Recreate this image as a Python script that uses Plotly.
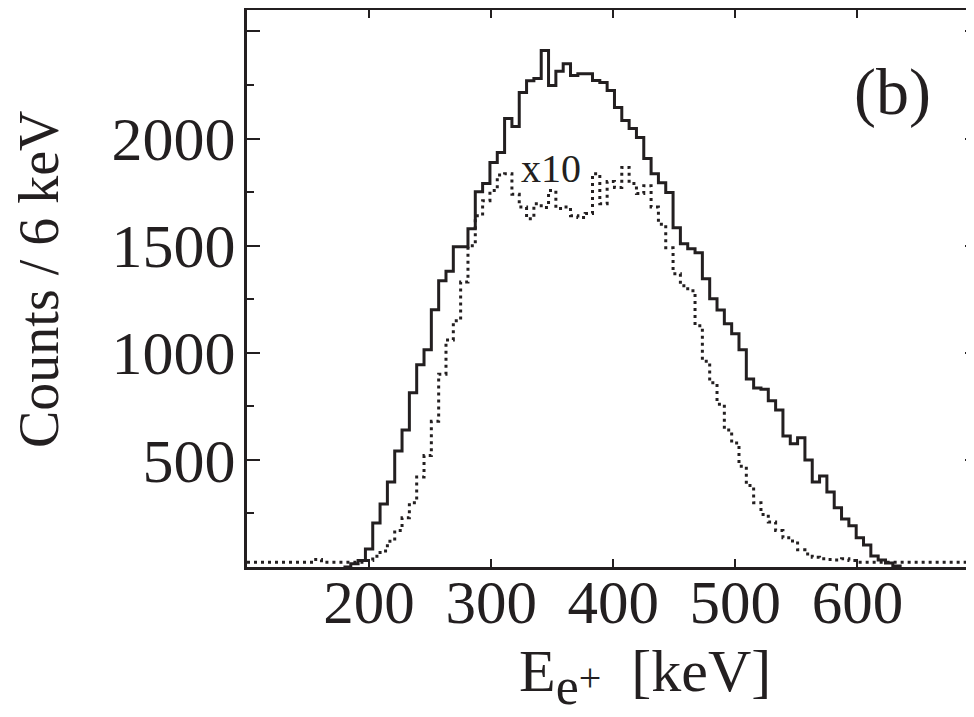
import numpy as np
import plotly.graph_objects as go

# ---------------- data ----------------
bin_width = 6  # keV per bin

# solid histogram: first bin starts at 185 keV
solid_first_edge = 185
solid_counts = [15, 30, 84, 205, 294, 397, 542, 640, 813, 944,
                1014, 1201, 1336, 1380, 1495, 1495, 1579, 1752, 1790, 1888,
                1935, 2093, 2056, 2215, 2270, 2280, 2411, 2248, 2314, 2349,
                2294, 2303, 2303, 2271, 2262, 2224, 2145, 2084, 2047, 2005,
                1907, 1836, 1794, 1748, 1584, 1509, 1486, 1467, 1346, 1252,
                1200, 1135, 1089, 1014, 878, 836, 830, 776, 733, 612,
                575, 603, 500, 397, 425, 350, 276, 224, 192, 136,
                103, 51, 33, 19, 5]

# dotted histogram (x10): first bin starts at 101 keV
dotted_first_edge = 101
dotted_counts = [22, 22, 22, 22, 22, 22, 22, 22, 22, 35,
                 22, 22, 22, 22, 22, 22,
                 30, 50, 75, 120, 170, 230, 300, 420, 520, 680,
                 900, 1060, 1150, 1330, 1500, 1640, 1710, 1757, 1830, 1836,
                 1740, 1680, 1626, 1696, 1678, 1757, 1673, 1680, 1640, 1631,
                 1650, 1836, 1696, 1800, 1771, 1865, 1790, 1743, 1780, 1680,
                 1600, 1490, 1369, 1313, 1290, 1126, 960, 860, 760, 640,
                 579, 470, 380, 300, 245, 210, 170, 136, 121, 80,
                 61, 45, 38, 35, 33, 38, 30,
                 22, 22, 22, 22, 22, 22, 22, 22, 22, 22,
                 22, 22, 22, 22, 22, 22]

x_tick_vals = [200, 300, 400, 500, 600]
x_tick_text = ["200", "300", "400", "500", "600"]
y_tick_vals = [0, 500, 1000, 1500, 2000, 2500]
y_tick_text = ["", "500", "1000", "1500", "2000", ""]

x_range = [100, 695.5]
y_range = [0, 2600]

# ---------------- build step outlines ----------------
n_s = len(solid_counts)
sx = [solid_first_edge - bin_width] + [solid_first_edge + i * bin_width for i in range(n_s)] \
     + [solid_first_edge + n_s * bin_width]
sy = [0] + solid_counts + [0]

n_d = len(dotted_counts)
dx = [dotted_first_edge - 1] + [dotted_first_edge + i * bin_width for i in range(1, n_d)] \
     + [dotted_first_edge + n_d * bin_width]
dy = dotted_counts + [dotted_counts[-1]]

INK = "#231f20"
FONT = "Liberation Serif"

# page body has an 8px default margin; figure is sized to fit the window
W, H = 966, 709
L, T, B = 239, 2, 150
PW, PH = W - L, H - T - B

fig = go.Figure()
fig.add_trace(go.Scatter(x=dx, y=dy, mode="lines", line_shape="hv",
                         line=dict(color=INK, width=3, dash="3px,4px"),
                         showlegend=False, hoverinfo="skip"))
fig.add_trace(go.Scatter(x=sx, y=sy, mode="lines", line_shape="hv",
                         line=dict(color=INK, width=3),
                         showlegend=False, hoverinfo="skip"))
# invisible trace to anchor right-hand tick axis
fig.add_trace(go.Scatter(x=[x_range[0]], y=[y_range[0]], yaxis="y2", mode="markers",
                         marker=dict(opacity=0), showlegend=False, hoverinfo="skip"))

fig.update_layout(
    width=W, height=H,
    margin=dict(l=L, r=0, t=T, b=B, autoexpand=False),
    paper_bgcolor="white", plot_bgcolor="white",
    font=dict(family=FONT, color=INK),
    xaxis=dict(range=x_range, showline=True, linewidth=3, linecolor=INK,
               mirror="ticks", ticks="inside", ticklen=8, tickwidth=2, tickcolor=INK,
               tickvals=x_tick_vals, ticktext=x_tick_text,
               tickfont=dict(family=FONT, size=61, color=INK),
               ticklabelstandoff=-20, automargin=False,
               showgrid=False, zeroline=False),
    yaxis=dict(range=y_range, showline=True, linewidth=3, linecolor=INK,
               ticks="inside", ticklen=13, tickwidth=2, tickcolor=INK,
               tickvals=y_tick_vals, ticktext=y_tick_text,
               tickfont=dict(family=FONT, size=62, color=INK),
               ticklabelstandoff=-4, automargin=False,
               minor=dict(ticks="inside", ticklen=7, tickwidth=2, tickcolor=INK, dtick=250),
               showgrid=False, zeroline=False),
    yaxis2=dict(range=y_range, overlaying="y", side="right", showline=False,
                ticks="inside", ticklen=9, tickwidth=2, tickcolor=INK,
                tickvals=y_tick_vals, showticklabels=False, automargin=False,
                minor=dict(ticks="inside", ticklen=4, tickwidth=2, tickcolor=INK, dtick=250),
                showgrid=False, zeroline=False),
)

fig.add_annotation(text="Counts / 6 keV", textangle=-90, showarrow=False,
                   xref="paper", yref="paper", x=(31 - L) / PW, y=(H - B - 271) / PH,
                   xanchor="center", yanchor="middle",
                   font=dict(family=FONT, size=56, color=INK))
fig.add_annotation(text="E<sub><span style='font-size:52px'>e</span></sub><span style='font-size:40px'>+</span>  [keV]",
                   showarrow=False, xref="paper", yref="paper",
                   x=(637 - L) / PW, y=(H - B - 668) / PH,
                   xanchor="center", yanchor="middle",
                   font=dict(family=FONT, size=60, color=INK))
fig.add_annotation(text="(b)", showarrow=False, x=629, y=2215,
                   xanchor="center", yanchor="middle",
                   font=dict(family=FONT, size=66, color=INK))
fig.add_annotation(text="x10", showarrow=False, x=349, y=1862,
                   xanchor="center", yanchor="middle",
                   font=dict(family=FONT, size=40, color=INK))

fig.write_html("out.html")
